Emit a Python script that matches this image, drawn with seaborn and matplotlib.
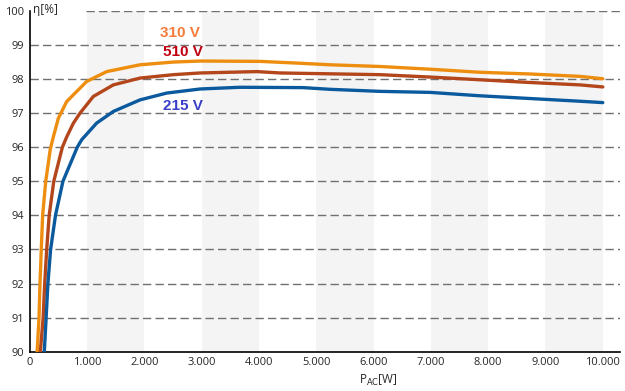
import pandas as pd
import seaborn as sns
import matplotlib.pyplot as plt
from matplotlib.ticker import FuncFormatter

# Wirkungsgradkurven
p_310 = [130, 163, 180, 202, 226, 280, 360, 412, 500, 645, 994, 1344, 1925, 2505,
         2975, 4019, 4660, 5240, 6113, 6986, 7859, 8731, 9604, 10000]
eta_310 = [90, 91, 92, 93, 94, 95, 95.95, 96.3, 96.85, 97.34, 97.93, 98.22, 98.42, 98.5,
           98.53, 98.52, 98.47, 98.42, 98.37, 98.29, 98.2, 98.15, 98.08, 98.01]

p_510 = [186, 235, 262, 297, 340, 420, 570, 645, 760, 878, 1110, 1459, 1925, 2507,
         2975, 3962, 4370, 5067, 6113, 6986, 7859, 8731, 9604, 10000]
eta_510 = [90, 91, 92, 93, 94, 95, 96, 96.3, 96.7, 97.0, 97.49, 97.83, 98.03, 98.13,
           98.18, 98.22, 98.18, 98.16, 98.13, 98.06, 97.98, 97.9, 97.83, 97.77]

p_215 = [255, 287, 318, 365, 450, 580, 830, 907, 1169, 1459, 1925, 2390, 2975,
         3670, 4775, 5240, 6113, 6986, 7859, 8731, 9604, 10000]
eta_215 = [90, 91, 92, 93, 94, 95, 96, 96.22, 96.71, 97.05, 97.39, 97.59, 97.71,
           97.76, 97.75, 97.7, 97.64, 97.61, 97.51, 97.43, 97.35, 97.31]

x_ticks = list(range(0, 10001, 1000))
y_ticks = list(range(90, 101))

df = pd.concat([
    pd.DataFrame({'P': p_310, 'eta': eta_310, 'U': '310 V'}),
    pd.DataFrame({'P': p_510, 'eta': eta_510, 'U': '510 V'}),
    pd.DataFrame({'P': p_215, 'eta': eta_215, 'U': '215 V'}),
])

line_colors = {'310 V': '#EE8E10', '510 V': '#B4461C', '215 V': '#0B5A9E'}
label_colors = {'310 V': '#F77B3A', '510 V': '#C00010', '215 V': '#3B3FC8'}

sns.set_style("white")
plt.rcParams['font.family'] = ['Open Sans', 'DejaVu Sans']

fig = plt.figure(figsize=(6.25, 3.91), dpi=100)
ax = fig.add_axes([0.0475, 0.1005, 0.9445, 0.8715])

# graue Bänder
for x0 in range(1000, 10000, 2000):
    ax.axvspan(x0, x0 + 1000, color='#F4F4F4', lw=0, zorder=0)

# horizontale Gitterlinien
for y in y_ticks[1:-1]:
    ax.axhline(y, color='#707070', lw=1, dashes=(6, 3), zorder=1)
ax.hlines(100, 980, 10300, color='#707070', lw=1, linestyles=(0, (6, 3)), zorder=1)

sns.lineplot(data=df, x='P', y='eta', hue='U', palette=line_colors,
             estimator=None, sort=False, lw=2.4, legend=False, ax=ax, zorder=3)

# Spannungsbeschriftungen
ax.text(2620, 99.35, '310 V', color=label_colors['310 V'], fontsize=11,
        fontweight='bold', family='Liberation Sans', ha='center', va='center')
ax.text(2680, 98.8, '510 V', color=label_colors['510 V'], fontsize=11,
        fontweight='bold', family='Liberation Sans', ha='center', va='center')
ax.text(2680, 97.22, '215 V', color=label_colors['215 V'], fontsize=11,
        fontweight='bold', family='Liberation Sans', ha='center', va='center')

ax.set_xlim(0, 10300)
ax.set_ylim(90, 100)
ax.set_xticks(x_ticks)
ax.set_yticks(y_ticks)
ax.xaxis.set_major_formatter(FuncFormatter(lambda v, p: f'{int(v):,}'.replace(',', '.')))
ax.tick_params(axis='both', length=0, labelsize=8, pad=4)
ax.set_xlabel('')
ax.set_ylabel('')

for s in ['top', 'right']:
    ax.spines[s].set_visible(False)
for s in ['left', 'bottom']:
    ax.spines[s].set_color('black')
    ax.spines[s].set_linewidth(1.2)

fig.text(0.053, 0.975, 'η[%]', fontsize=8.5, ha='left', va='center')
fig.text(0.605, 0.028, r'P$_{\mathrm{AC}}$[W]', fontsize=8.5, ha='center', va='center')

plt.savefig('out.png', dpi=100)
plt.close()
